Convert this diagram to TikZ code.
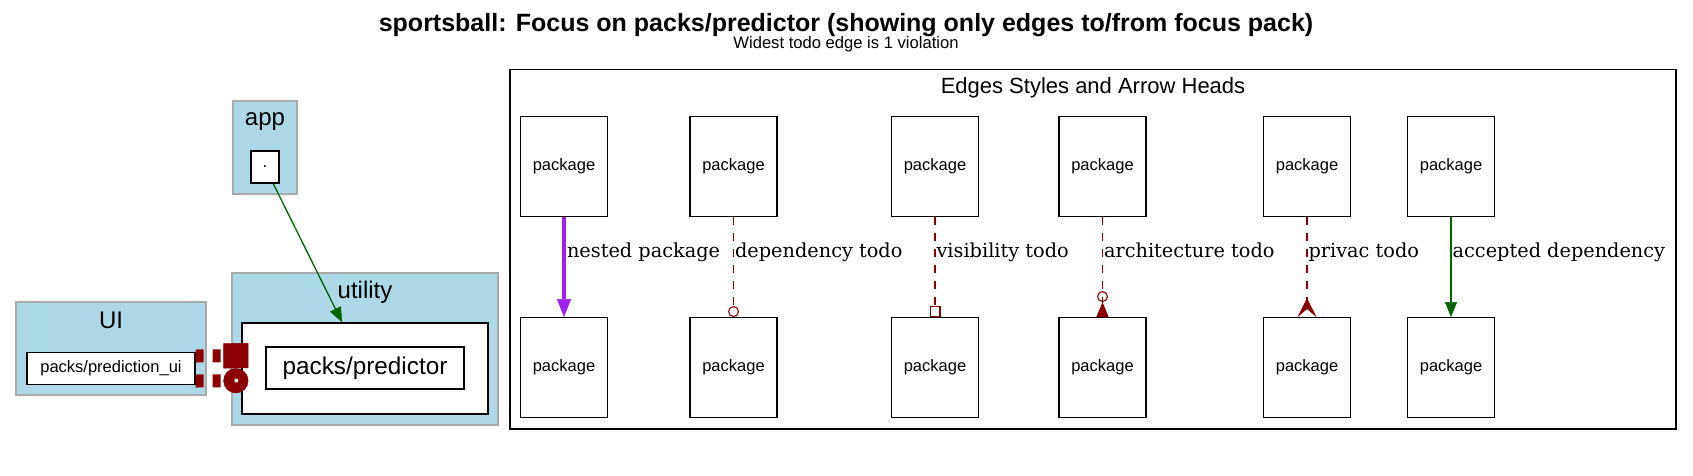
\documentclass[tikz,border=0pt]{standalone}
\usepackage{fontspec}
\setmainfont{Liberation Sans}
\newfontfamily\edgefont{DejaVu Serif}
\usetikzlibrary{arrows.meta}
\definecolor{clusterfill}{HTML}{ADD8E6}
\definecolor{clusterline}{HTML}{AAAAAA}
\definecolor{todored}{HTML}{8B0000}
\definecolor{okgreen}{HTML}{006400}
\definecolor{nestpurple}{HTML}{A020F0}
\tikzset{
  cluster/.style={draw=clusterline, fill=clusterfill, line width=1.5pt, inner sep=0pt},
  box/.style={draw, fill=white, line width=1.3pt, inner sep=0pt},
  pkg/.style={box, font=\fontsize{16.5}{19}\selectfont},
  legendpkg/.style={pkg, minimum width=87pt, minimum height=100pt},
  clusterlabel/.style={font=\fontsize{24}{28}\selectfont, anchor=base, inner sep=0pt},
  edgelabel/.style={font=\edgefont\fontsize{19.3}{23}\selectfont, anchor=base west, inner sep=0pt, pos=0.4, xshift=1pt},
  todo/.style={draw=todored, line width=1.1pt, dash pattern=on 8pt off 8pt},
  bigtodo/.style={draw=todored, line width=13pt, dash pattern=on 8pt off 9pt, shorten >=17pt},
  ok/.style={draw=okgreen, line width=1.3pt, -{Triangle[length=15pt,width=12pt,line width=0.5pt]}},
  nest/.style={draw=nestpurple, line width=4pt, -{Triangle[length=18pt,width=14pt,line width=0.5pt]}}
}
\begin{document}
\begin{tikzpicture}[x=1pt, y=-1pt]
\useasboundingbox (0,0) rectangle (1693,475);
% title
\node[anchor=base, inner sep=0pt, font=\bfseries\fontsize{25}{30}\selectfont] (title) at (846,31) {sportsball: Focus on packs/predictor (showing only edges to/from focus pack)};
\node[anchor=base, inner sep=0pt, font=\fontsize{16.6}{19}\selectfont] (subtitle) at (846,48.5) {Widest todo edge is 1 violation};
% clusters
\node[cluster, minimum width=64pt, minimum height=93pt] (app) at (265,147.5) {};
\node[clusterlabel] (applabel) at (265,125) {app};
\node[pkg, minimum width=28pt, minimum height=32pt] (dot) at (265,167) {.};
\node[cluster, minimum width=190pt, minimum height=93pt] (ui) at (111,348.5) {};
\node[clusterlabel] (uilabel) at (111,328) {UI};
\node[pkg, minimum width=168pt, minimum height=31.6pt] (predui) at (111,368.5) {packs/prediction\_ui};
\node[cluster, minimum width=266pt, minimum height=152pt] (util) at (365,349) {};
\node[clusterlabel] (utillabel) at (365,298) {utility};
\node[box, minimum width=246pt, minimum height=91pt] (predbox) at (365,368.5) {};
\node[box, minimum width=198pt, minimum height=42pt, font=\fontsize{24.3}{28}\selectfont] (pred) at (365,368) {packs/predictor};
\draw (dot) edge[ok] (predbox);
\draw[bigtodo, -{Square[length=25pt,width=25pt,line width=0.5pt]}] ([yshift=12.5pt]predui.east) -- ([yshift=12.5pt]pred.west);
\draw[bigtodo, -{Circle[length=25pt,line width=0.5pt]}] ([yshift=-12.5pt]predui.east) -- ([yshift=-12.5pt]pred.west);
\fill[white] ([xshift=-29pt, yshift=-12.5pt]pred.west) circle (2pt);
% legend
\node[box, minimum width=1166pt, minimum height=359.5pt] (legend) at (1093,249.25) {};
\node[anchor=base, inner sep=0pt, font=\fontsize{22}{26}\selectfont] (legendlabel) at (1093,93) {Edges Styles and Arrow Heads};
\node[legendpkg] (p1) at (564,166.5) {package};
\node[legendpkg] (p2) at (733.5,166.5) {package};
\node[legendpkg] (p3) at (935,166.5) {package};
\node[legendpkg] (p4) at (1102.5,166.5) {package};
\node[legendpkg] (p5) at (1307,166.5) {package};
\node[legendpkg] (p6) at (1451,166.5) {package};
\node[legendpkg] (q1) at (564,367.7) {package};
\node[legendpkg] (q2) at (733.5,367.7) {package};
\node[legendpkg] (q3) at (935,367.7) {package};
\node[legendpkg] (q4) at (1102.5,367.7) {package};
\node[legendpkg] (q5) at (1307,367.7) {package};
\node[legendpkg] (q6) at (1451,367.7) {package};
\draw (p1) edge[nest] node[edgelabel] {nested package} (q1);
\draw (p2) edge[todo, -{Circle[open,length=11pt]}] node[edgelabel] {dependency todo} (q2);
\draw (p3) edge[todo, -{Square[open,length=11pt]}] node[edgelabel] {visibility todo} (q3);
\draw (p4) edge[todo, -{Circle[open,length=11pt,sep=0pt] Triangle[reversed,length=15pt,width=12pt,sep=0pt]}] node[edgelabel] {architecture todo} (q4);
\draw (p5) edge[todo, -{Stealth[reversed,length=19pt,width=19pt,inset=8pt]}] node[edgelabel] {privac todo} (q5);
\draw (p6) edge[ok] node[edgelabel] {accepted dependency} (q6);
\end{tikzpicture}
\end{document}
